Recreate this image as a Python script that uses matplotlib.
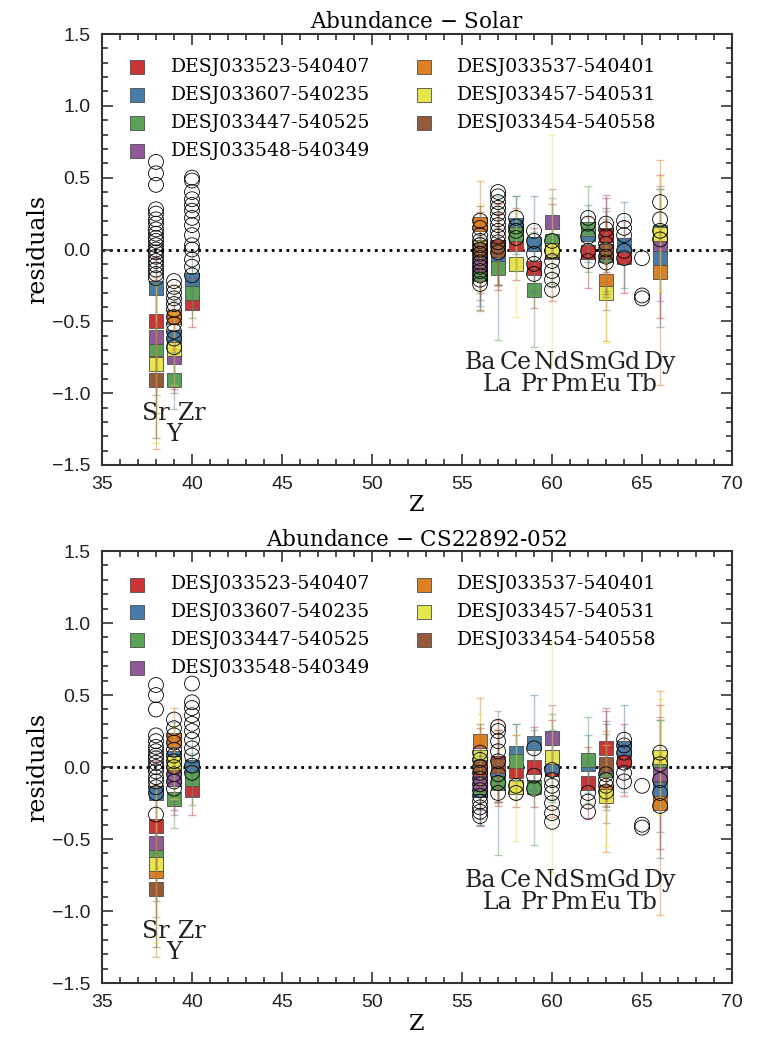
import numpy as np
import matplotlib
matplotlib.use('Agg')
import matplotlib.pyplot as plt
import seaborn as sns
from matplotlib import font_manager
from matplotlib.ticker import MultipleLocator

# element labels
elem_z = [38, 39, 40, 56, 57, 58, 59, 60, 61, 62, 63, 64, 65, 66]
elem_names = ['Sr', 'Y', 'Zr', 'Ba', 'La', 'Ce', 'Pr', 'Nd', 'Pm', 'Sm', 'Eu', 'Gd', 'Tb', 'Dy']

star_names = ['DESJ033523-540407', 'DESJ033607-540235', 'DESJ033447-540525',
              'DESJ033548-540349', 'DESJ033537-540401', 'DESJ033457-540531',
              'DESJ033454-540558']

# per star: Z, residual vs solar, residual vs CS22892-052, error
red_z = [38, 39, 40, 56, 57, 58, 59, 60, 62, 63, 64, 66]
red_solar = [-0.50, -0.72, -0.37, -0.08, 0.02, 0.04, -0.13, -0.02, -0.02, 0.10, -0.05, 0.02]
red_cs = [-0.41, -0.05, -0.16, -0.07, 0.03, -0.03, 0.00, -0.01, -0.11, 0.13, 0.05, -0.07]
red_err = [0.45, 0.25, 0.17, 0.34, 0.30, 0.25, 0.28, 0.34, 0.25, 0.26, 0.25, 0.50]

blue_z = [38, 39, 40, 56, 57, 58, 59, 60, 62, 63, 64, 66]
blue_solar = [-0.27, -0.61, -0.21, -0.15, -0.05, 0.17, 0.04, -0.01, 0.11, -0.03, 0.03, -0.06]
blue_cs = [-0.18, 0.06, 0.00, -0.16, -0.04, 0.10, 0.17, 0.01, 0.02, 0.00, 0.13, -0.15]
blue_err = [0.30, 0.25, 0.20, 0.24, 0.20, 0.20, 0.33, 0.25, 0.20, 0.30, 0.30, 0.48]

green_z = [38, 39, 40, 56, 57, 58, 59, 60, 62, 63, 66]
green_solar = [-0.69, -0.91, -0.30, -0.17, -0.13, 0.11, -0.28, 0.06, 0.14, -0.04, 0.12]
green_cs = [-0.59, -0.22, -0.08, -0.14, -0.11, 0.04, -0.14, 0.07, 0.05, -0.02, 0.03]
green_err = [0.45, 0.20, 0.18, 0.26, 0.50, 0.26, 0.40, 0.30, 0.30, 0.25, 0.30]

purple_z = [38, 39, 56, 57, 60, 63, 66]
purple_solar = [-0.61, -0.75, -0.10, 0.00, 0.19, -0.02, 0.04]
purple_cs = [-0.53, -0.08, -0.11, 0.01, 0.20, 0.01, -0.05]
purple_err = [0.40, 0.25, 0.25, 0.25, 0.23, 0.40, 0.40]

orange_z = [38, 39, 56, 57, 63, 66]
orange_solar = [-0.79, -0.47, 0.18, 0.00, -0.22, -0.16]
orange_cs = [-0.72, 0.19, 0.18, 0.01, -0.17, -0.25]
orange_err = [0.60, 0.22, 0.30, 0.25, 0.42, 0.78]

yellow_z = [38, 39, 56, 58, 60, 63, 66]
yellow_solar = [-0.80, -0.69, 0.02, -0.10, 0.00, -0.30, 0.11]
yellow_cs = [-0.67, 0.03, 0.07, -0.14, 0.07, -0.20, 0.07]
yellow_err = [0.55, 0.25, 0.30, 0.37, 0.80, 0.35, 0.40]

brown_z = [38, 56, 57, 63]
brown_solar = [-0.91, 0.00, 0.00, -0.01]
brown_cs = [-0.85, 0.00, 0.01, 0.02]
brown_err = [0.40, 0.30, 0.25, 0.30]

# open circles: comparison sample, per element
circ_z = [38, 39, 40, 56, 57, 58, 59, 60, 62, 63, 64, 65, 66]
circ_solar = [
    [0.61, 0.53, 0.45, 0.28, 0.25, 0.21, 0.18, 0.14, 0.11, 0.08, 0.06, 0.03, 0.0, -0.02,
     -0.05, -0.08, -0.11, -0.14, -0.17, -0.20],
    [-0.22, -0.26, -0.30, -0.34, -0.38, -0.42, -0.47, -0.52, -0.57, -0.62, -0.68],
    [0.50, 0.48, 0.40, 0.35, 0.31, 0.27, 0.22, 0.17, 0.10, 0.03, 0.0, -0.07, -0.12, -0.18],
    [0.20, 0.15, 0.10, 0.06, 0.03, 0.0, -0.03, -0.06, -0.09, -0.12, -0.15, -0.18, -0.21, -0.24],
    [0.40, 0.37, 0.33, 0.29, 0.25, 0.21, 0.17, 0.13, 0.09, 0.05, 0.02, -0.02],
    [0.22, 0.16, 0.13, 0.08],
    [0.13, 0.06, -0.03, -0.10, -0.17],
    [0.06, -0.01, -0.08, -0.15, -0.21, -0.28],
    [0.22, 0.18, 0.09, -0.01, -0.08],
    [0.18, 0.14, 0.09, 0.04, 0.0, -0.05, -0.09],
    [0.20, 0.15, 0.10, -0.01, -0.06],
    [-0.06, -0.32, -0.34],
    [0.33, 0.21, 0.13, 0.07],
]
circ_cs = [
    [0.57, 0.50, 0.40, 0.22, 0.18, 0.14, 0.11, 0.08, 0.06, 0.03, 0.0, -0.03, -0.07, -0.10,
     -0.14, -0.18, -0.33],
    [0.33, 0.27, 0.22, 0.17, 0.12, 0.08, 0.04, 0.0, -0.05, -0.10, -0.15],
    [0.58, 0.45, 0.41, 0.36, 0.30, 0.25, 0.19, 0.13, 0.08, 0.01, -0.04],
    [0.10, 0.05, 0.0, -0.04, -0.08, -0.12, -0.16, -0.20, -0.24, -0.28, -0.31, -0.34],
    [0.28, 0.25, 0.18, 0.11, 0.04, -0.05, -0.11, -0.18],
    [-0.13, -0.18],
    [0.13, -0.06, -0.15],
    [-0.02, -0.09, -0.13, -0.18, -0.25, -0.32, -0.38],
    [-0.18, -0.24, -0.31],
    [-0.05, -0.09, -0.13, -0.17],
    [0.19, 0.15, 0.10, 0.03, -0.04, -0.10],
    [-0.13, -0.40, -0.42],
    [0.10, 0.02, -0.09, -0.18, -0.27],
]

stars_z = [red_z, blue_z, green_z, purple_z, orange_z, yellow_z, brown_z]
stars_solar = [red_solar, blue_solar, green_solar, purple_solar, orange_solar, yellow_solar, brown_solar]
stars_cs = [red_cs, blue_cs, green_cs, purple_cs, orange_cs, yellow_cs, brown_cs]
stars_err = [red_err, blue_err, green_err, purple_err, orange_err, yellow_err, brown_err]

colors = sns.color_palette('Set1', 7, desat=0.75)

plt.rcParams['font.family'] = 'DejaVu Serif'
plt.rcParams['mathtext.fontset'] = 'dejavuserif'

# narrow font for the tick numbers if there is one
installed = {f.name for f in font_manager.fontManager.ttflist}
tick_font = 'Liberation Sans Narrow' if 'Liberation Sans Narrow' in installed else 'Liberation Sans'

fig = plt.figure(figsize=(7.61, 10.37), dpi=100)
ax1 = fig.add_axes([0.134, 0.5516, 0.828, 0.4156])
ax2 = fig.add_axes([0.134, 0.052, 0.828, 0.4166])


def draw_panel(ax, star_vals, circ_vals, title):
    for i in range(len(star_names)):
        ax.errorbar(stars_z[i], star_vals[i], yerr=stars_err[i], fmt='none',
                    ecolor=colors[i], alpha=0.45, elinewidth=1, capsize=3, zorder=3)
        ax.scatter(stars_z[i], star_vals[i], marker='s', s=95, color=colors[i],
                   edgecolor='0.3', linewidth=0.6, label=star_names[i], zorder=2)
    for z, vals in zip(circ_z, circ_vals):
        ax.scatter([z] * len(vals), vals, marker='o', s=115, facecolor='none',
                   edgecolor='black', linewidth=0.6, zorder=4)
    ax.axhline(0, color='black', ls=':', lw=2, zorder=1)

    for z, name in zip(elem_z, elem_names):
        if z < 50:
            y = -1.14 if z % 2 == 0 else -1.29
        else:
            y = -0.79 if z % 2 == 0 else -0.94
        ax.text(z, y, name, ha='center', va='center', fontsize=17, color='#222222')

    ax.set_xlim(35, 70)
    ax.set_ylim(-1.5, 1.5)
    ax.xaxis.set_major_locator(MultipleLocator(5))
    ax.xaxis.set_minor_locator(MultipleLocator(1))
    ax.yaxis.set_major_locator(MultipleLocator(0.5))
    ax.yaxis.set_minor_locator(MultipleLocator(0.1))
    ax.tick_params(which='both', direction='in', top=True, right=True, colors='#333333',
                   labelsize=14, width=1.2, labelcolor='#222222',
                   labelfontfamily=tick_font)
    ax.tick_params(which='major', length=8, pad=8)
    ax.tick_params(which='minor', length=4)
    for sp in ax.spines.values():
        sp.set_color('#333333')
        sp.set_linewidth(1.5)
    ax.set_xlabel('Z', fontsize=16, labelpad=1)
    ax.set_ylabel('residuals', fontsize=17, labelpad=2)
    ax.set_title(title, fontsize=15.5, pad=4)
    ax.legend(loc='upper left', bbox_to_anchor=(-0.013, 1.0), ncol=2, frameon=False,
              fontsize=13.5, scatterpoints=1, handletextpad=0.8, columnspacing=1.85,
              labelspacing=0.52, borderaxespad=0.9, markerscale=1.0)


draw_panel(ax1, stars_solar, circ_solar, 'Abundance $-$ Solar')
draw_panel(ax2, stars_cs, circ_cs, 'Abundance $-$ CS22892-052')

fig.savefig('out.png', dpi=100)
